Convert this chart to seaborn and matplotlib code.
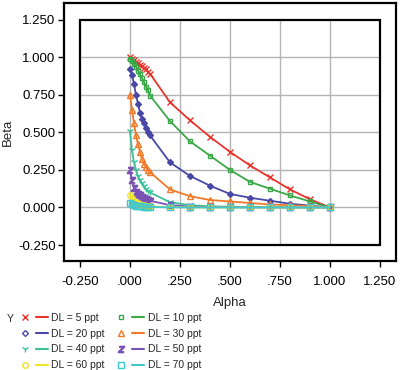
import seaborn as sns
import numpy as np
import matplotlib.pyplot as plt
import pandas as pd
from matplotlib.patches import Rectangle
from matplotlib.lines import Line2D
from matplotlib.legend_handler import HandlerTuple

sns.set_style("white")
plt.rcParams['font.family'] = ['Liberation Sans', 'DejaVu Sans']

# alpha grid shared by all series
alpha = [0, .01, .02, .03, .04, .05, .06, .07, .08, .09, .1,
         .2, .3, .4, .5, .6, .7, .8, .9, 1.0]

beta_5 = [1.0, .99, .98, .97, .96, .95, .94, .93, .92, .90, .89,
          .70, .58, .47, .37, .28, .20, .12, .055, 0]
beta_10 = [.99, .975, .955, .935, .91, .885, .86, .835, .805, .78, .745,
           .575, .44, .345, .25, .17, .125, .08, .04, 0]
beta_20 = [.92, .88, .82, .75, .69, .63, .59, .56, .53, .50, .48,
           .30, .21, .145, .09, .065, .045, .025, .012, 0]
beta_30 = [.75, .65, .56, .48, .42, .37, .32, .29, .27, .25, .235,
           .12, .075, .05, .04, .03, .02, .015, .008, 0]
beta_40 = [.51, .38, .30, .25, .21, .18, .16, .14, .12, .11, .10,
           .035, .015, .008, .005, .003, .002, .001, .0005, 0]
beta_50 = [.25, .18, .13, .10, .09, .08, .07, .06, .055, .05, .045,
           .015, .006, .003, .002, .001, .001, 0, 0, 0]
beta_60 = [.085, .06, .045, .035, .028, .022, .018, .015, .012, .01, .008,
           .002, .001, 0, 0, 0, 0, 0, 0, 0]
beta_70 = [.03, .02, .015, .012, .01, .008, .007, .006, .005, .004, .004,
           .001, 0, 0, 0, 0, 0, 0, 0, 0]

labels = ["DL = 5 ppt", "DL = 10 ppt", "DL = 20 ppt", "DL = 30 ppt",
          "DL = 40 ppt", "DL = 50 ppt", "DL = 60 ppt", "DL = 70 ppt"]
betas = [beta_5, beta_10, beta_20, beta_30, beta_40, beta_50, beta_60, beta_70]
colors = ["#e8352e", "#3aa848", "#4a48a6", "#f07a28",
          "#3cc09a", "#7a52b4", "#f0e42a", "#3ec8d0"]
markers = ["x", "s", "D", "^", "1", "$z$", "o", "s"]
msizes = [5, 3.5, 3, 4, 5, 4.5, 4, 4]

df = pd.concat([pd.DataFrame({"Alpha": alpha, "Beta": b, "Y": lab})
                for b, lab in zip(betas, labels)])

fig = plt.figure(figsize=(4, 3.7), dpi=100)
ax = fig.add_axes([0.16, 0.2946, 0.83, 0.697])

# grid only inside the inner frame
ticks = [-0.25, 0, 0.25, 0.5, 0.75, 1.0, 1.25]
for t in ticks[1:-1]:
    ax.plot([t, t], [-0.25, 1.25], color="#b4b4b4", lw=1, zorder=0)
    ax.plot([-0.25, 1.25], [t, t], color="#b4b4b4", lw=1, zorder=0)
ax.add_patch(Rectangle((-0.25, -0.25), 1.5, 1.5, fill=False, ec="black", lw=1.6, zorder=5))

handles = []
for lab, c, m, ms in zip(labels, colors, markers, msizes):
    sub = df[df["Y"] == lab]
    fc = c if m in ("x", "1", "$z$", "D") else "none"
    sns.lineplot(data=sub, x="Alpha", y="Beta", ax=ax, color=c, lw=1.3,
                 marker=m, markersize=ms, markerfacecolor=fc, markeredgecolor=c,
                 markeredgewidth=1, sort=False, zorder=3)
    mk = Line2D([], [], ls="none", marker=m, color=c, markersize=ms,
                markerfacecolor=c if m in ("x", "1", "$z$") else "none",
                markeredgewidth=1)
    ln = Line2D([], [], color=c, lw=1.5)
    handles.append((mk, ln))

ax.set_xlim(-0.33, 1.33)
ax.set_ylim(-0.356, 1.36)
ax.set_xticks(ticks)
ax.set_xticklabels(["-0.250", ".000", ".250", ".500", ".750", "1.000", "1.250"])
ax.set_yticks(ticks)
ax.set_yticklabels(["-0.250", "0.000", "0.250", "0.500", "0.750", "1.000", "1.250"])
ax.tick_params(axis="both", direction="out", length=4, width=1, labelsize=9.5,
               left=True, bottom=True, colors="black")
ax.tick_params(axis="x", pad=7)
ax.tick_params(axis="y", pad=2)
for s in ax.spines.values():
    s.set_color("black")
    s.set_linewidth(1.6)
ax.set_xlabel("Alpha", fontsize=9.5, labelpad=6)
ax.set_ylabel("Beta", fontsize=9.5, labelpad=3)
ax.get_legend() and ax.get_legend().remove()

order = [0, 2, 4, 6, 1, 3, 5, 7]
fig.text(7 / 400, 1 - 319 / 370, "Y", fontsize=7.5, va="center")
fig.legend([handles[i] for i in order], [labels[i] for i in order], ncol=2,
           loc="upper left", bbox_to_anchor=(19 / 400, 1 - 313 / 370),
           frameon=False, fontsize=7.5, handlelength=2.8, handletextpad=0.3,
           columnspacing=1.0, labelspacing=0.55, borderpad=0, borderaxespad=0,
           handler_map={tuple: HandlerTuple(ndivide=None, pad=0.5)})

fig.savefig("out.png", dpi=100)
